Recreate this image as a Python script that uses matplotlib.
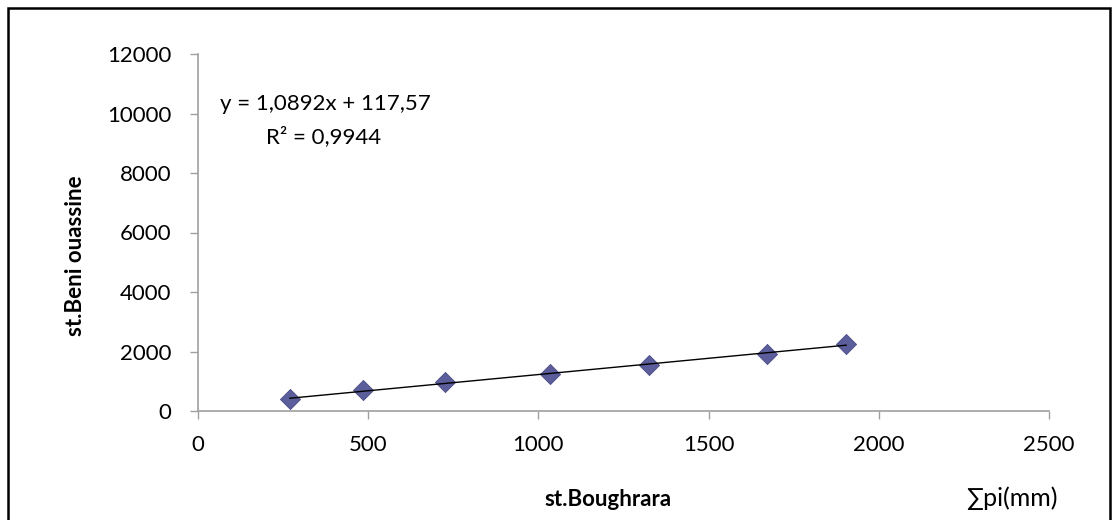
import numpy as np
import matplotlib
matplotlib.use("Agg")
import matplotlib.pyplot as plt
from matplotlib.patches import Rectangle

x_vals = [270, 486, 725, 1034, 1325, 1671, 1904]
y_vals = [389, 711, 967, 1244, 1544, 1911, 2267]
x_ticks = [0, 500, 1000, 1500, 2000, 2500]
y_ticks = [0, 2000, 4000, 6000, 8000, 10000, 12000]
eq_line1 = "y = 1,0892x + 117,57"
eq_line2 = "R² = 0,9944"
x_label = "st.Boughrara"
y_label = "st.Beni ouassine"
unit_label = "∑pi(mm)"

plt.rcParams['font.family'] = ['Lato', 'DejaVu Sans']

W, H = 1118, 520
fig = plt.figure(figsize=(W/100, H/100), dpi=100)
ax = fig.add_axes([198/W, 1-411/H, (1049-198)/W, (411-54)/H])

ax.scatter(x_vals, y_vals, marker='D', s=105, color='#5b5e9a', edgecolor='#4a4c85', linewidths=0.6, zorder=3)
coef = np.polyfit(x_vals, y_vals, 1)
xs = np.array([min(x_vals), max(x_vals)])
ax.plot(xs, np.polyval(coef, xs), color='black', lw=1, zorder=4)

ax.set_xlim(0, 2500)
ax.set_ylim(0, 12000)
ax.set_xticks(x_ticks)
ax.set_yticks(y_ticks)
ax.tick_params(labelsize=16, color='#a0a0a0', length=6, width=1)
ax.tick_params(axis='y', pad=13)
ax.tick_params(axis='x', pad=11)
for s in ['top', 'right']:
    ax.spines[s].set_visible(False)
for s in ['left', 'bottom']:
    ax.spines[s].set_color('#a0a0a0')
    ax.spines[s].set_linewidth(1.2)

fig.text(325/W, 1-104/H, eq_line1, ha='center', va='center', fontsize=16)
fig.text(324/W, 1-137/H, eq_line2, ha='center', va='center', fontsize=16)

fig.text(608/W, 1-499/H, x_label, ha='center', va='center', fontsize=16, fontweight='bold')
fig.text(75/W, 1-256/H, y_label, ha='center', va='center', fontsize=16, fontweight='bold', rotation=90)
fig.text(1012/W, 1-498/H, unit_label, ha='center', va='center', fontsize=18,
         family=['Lato', 'DejaVu Sans'])

fig.patches.append(Rectangle((8/W, -0.05), (1110-8)/W, 1.05-8/H, transform=fig.transFigure,
                             fill=False, edgecolor='black', lw=1.8))

fig.savefig("out.png", dpi=100)
